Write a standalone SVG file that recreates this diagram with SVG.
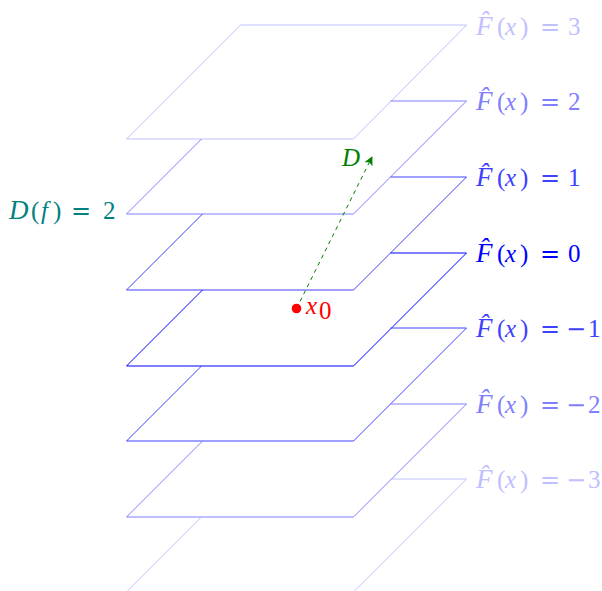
<svg xmlns="http://www.w3.org/2000/svg" width="602" height="591" viewBox="0 0 602 591">
<style>
.pl{fill:none;stroke-width:1}
.s0{stroke:#0000ff}
.s1{stroke:#4040ff}
.s2{stroke:#8080ff}
.s3{stroke:#c0c0ff}
.f0{fill:#0000ff}
.f1{fill:#4040ff}
.f2{fill:#8080ff}
.f3{fill:#c0c0ff}
.t{font-family:"Liberation Serif",serif;font-size:25px}
.i{font-style:italic}
.F{font-style:italic;font-size:27px}
.m{font-family:"DejaVu Serif",serif;font-size:24px}
</style>
<defs>
<marker id="ah" viewBox="0 0 10 10" refX="9" refY="5" markerWidth="9" markerHeight="9" markerUnits="userSpaceOnUse" orient="auto">
<path d="M0,0 L10,5 L0,10 L2.5,5 Z" fill="#008000"/>
</marker>
</defs>
<rect width="602" height="591" fill="#ffffff"/>

<g id="plane-p3">
<path class="pl s3" d="M240.5,25 H466.5 L353.5,139 H126.5 Z"/>
<text class="t f3" y="34.8"><tspan class="F" x="476">F̂</tspan><tspan x="497">(</tspan><tspan class="i" x="505">x</tspan><tspan x="520">)</tspan><tspan class="m" x="540">=</tspan><tspan x="568">3</tspan></text>
</g>

<g id="plane-p2">
<path class="pl s2" d="M390.5,101 H466.5 L353.5,214 H126.5 L201.5,139"/>
<text class="t f2" y="110.4"><tspan class="F" x="476">F̂</tspan><tspan x="497">(</tspan><tspan class="i" x="505">x</tspan><tspan x="520">)</tspan><tspan class="m" x="540">=</tspan><tspan x="568">2</tspan></text>
</g>

<g id="plane-p1">
<path class="pl s1" d="M390.5,177 H466.5 L353.5,290 H126.5 L202.5,214"/>
<text class="t f1" y="186"><tspan class="F" x="476">F̂</tspan><tspan x="497">(</tspan><tspan class="i" x="505">x</tspan><tspan x="520">)</tspan><tspan class="m" x="540">=</tspan><tspan x="568">1</tspan></text>
</g>

<g id="plane-0">
<path class="pl s0" d="M390.5,253 H466.5 L353.5,366 H126.5 L202.5,290"/>
<text class="t f0" y="261.6"><tspan class="F" x="476">F̂</tspan><tspan x="497">(</tspan><tspan class="i" x="505">x</tspan><tspan x="520">)</tspan><tspan class="m" x="540">=</tspan><tspan x="568">0</tspan></text>
</g>

<g id="plane-m1">
<path class="pl s1" d="M390.5,328 H466.5 L353.5,441 H126.5 L201.5,366"/>
<text class="t f1" y="337.2"><tspan class="F" x="476">F̂</tspan><tspan x="497">(</tspan><tspan class="i" x="505">x</tspan><tspan x="520">)</tspan><tspan class="m" x="540">=</tspan><tspan class="m" x="566">−</tspan><tspan x="588">1</tspan></text>
</g>

<g id="plane-m2">
<path class="pl s2" d="M390.5,404 H466.5 L353.5,517 H126.5 L202.5,441"/>
<text class="t f2" y="412.8"><tspan class="F" x="476">F̂</tspan><tspan x="497">(</tspan><tspan class="i" x="505">x</tspan><tspan x="520">)</tspan><tspan class="m" x="540">=</tspan><tspan class="m" x="566">−</tspan><tspan x="588">2</tspan></text>
</g>

<g id="plane-m3">
<path class="pl s3" d="M390.5,479 H466.5 L353.5,592 M126.5,592 L201.5,517"/>
<text class="t f3" y="488.4"><tspan class="F" x="476">F̂</tspan><tspan x="497">(</tspan><tspan class="i" x="505">x</tspan><tspan x="520">)</tspan><tspan class="m" x="540">=</tspan><tspan class="m" x="566">−</tspan><tspan x="588">3</tspan></text>
</g>

<g id="label-Df">
<text class="t" fill="#008080" y="219"><tspan class="i" x="9" font-size="27">D</tspan><tspan x="31">(</tspan><tspan class="i" x="41">f</tspan><tspan x="53">)</tspan><tspan class="m" x="71">=</tspan><tspan x="103">2</tspan></text>
</g>

<g id="connectors">
<line x1="296.5" y1="308.5" x2="372" y2="157" stroke="#008000" stroke-width="1" stroke-dasharray="4 4" marker-end="url(#ah)"/>
<text class="t i" fill="#008000" x="342" y="166" font-size="26">D</text>
</g>

<g id="point-x0">
<circle cx="296.5" cy="308.5" r="4.8" fill="#ff0000"/>
<text class="t i" fill="#ff0000" x="306" y="314">x</text>
<text class="t" fill="#ff0000" x="319" y="319" font-size="17">0</text>
</g>
</svg>
